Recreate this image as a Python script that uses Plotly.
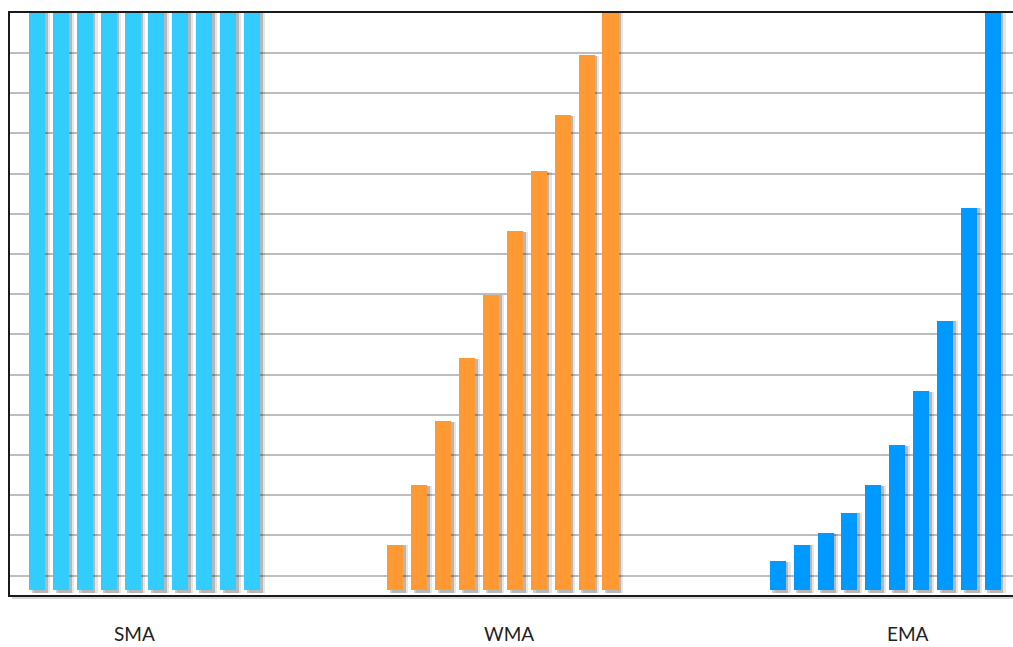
import plotly.graph_objects as go

# ---- data (bar heights as % of the tallest bar) ----
groups = ["SMA", "WMA", "EMA"]
sma_values = [100, 100, 100, 100, 100, 100, 100, 100, 100, 100]
wma_values = [7.8, 18.1, 29.1, 40.0, 50.9, 61.9, 72.2, 81.9, 92.2, 100]
ema_values = [5.0, 7.8, 9.8, 13.3, 18.1, 25.0, 34.3, 46.4, 65.9, 100]
colors = ["#33CCFF", "#FF9933", "#0099FF"]

# ---- layout constants ----
group_starts = [0, 15, 31]
label_pos = [4.1, 19.75, 36.45]
bar_w = 0.67
grid0, grid_step = 2.466, 6.933

fig = go.Figure()
series = [sma_values, wma_values, ema_values]

# drop shadows
for start, vals in zip(group_starts, series):
    xs = [start + i for i in range(len(vals))]
    for off, alpha in [(0.2, 0.10), (0.11, 0.20)]:
        fig.add_trace(go.Bar(
            x=[x + off for x in xs], y=[v + 0.5 for v in vals], base=-0.6,
            width=bar_w, marker=dict(color=f"rgba(0,0,0,{alpha})", line=dict(width=0)),
            hoverinfo="skip", showlegend=False, cliponaxis=False))

for start, vals, col, name in zip(group_starts, series, colors, groups):
    xs = [start + i for i in range(len(vals))]
    fig.add_trace(go.Bar(
        x=xs, y=vals, base=0, width=bar_w, name=name,
        marker=dict(color=col, line=dict(width=0)),
        showlegend=False, cliponaxis=False))

annotations = [
    dict(x=p, xref="x", y=0, yref="paper", yshift=-38, yanchor="middle",
         text=g, showarrow=False, font=dict(family="Lato", size=19, color="#222"))
    for p, g in zip(label_pos, groups)
]

fig.update_layout(
    width=1016, height=647,
    margin=dict(l=10, r=0, t=13, b=52),
    paper_bgcolor="white", plot_bgcolor="white",
    barmode="overlay", bargap=0,
    xaxis=dict(range=[-1.13, 40.97], showgrid=False, zeroline=False,
               showticklabels=False, ticks="", showline=True, mirror=True,
               layer="below traces", linecolor="#1a1a1a", linewidth=2),
    yaxis=dict(range=[-0.86, 99.48], showgrid=True, gridcolor="#bdbdbd",
               gridwidth=1.5, tick0=grid0, dtick=grid_step, zeroline=False,
               showticklabels=False, ticks="", showline=True,
               layer="below traces", linecolor="#1a1a1a", linewidth=2),
    annotations=annotations,
    shapes=[
        dict(type="line", xref="paper", x0=0.002, x1=1, yref="paper",
             y0=-0.0045, y1=-0.0045, line=dict(color="rgba(0,0,0,0.15)", width=3),
             layer="below"),
    ],
)

fig.write_html("out.html", config={"displayModeBar": False},
               post_script="document.body.style.margin='0';"
                           "document.body.style.overflow='hidden';")
